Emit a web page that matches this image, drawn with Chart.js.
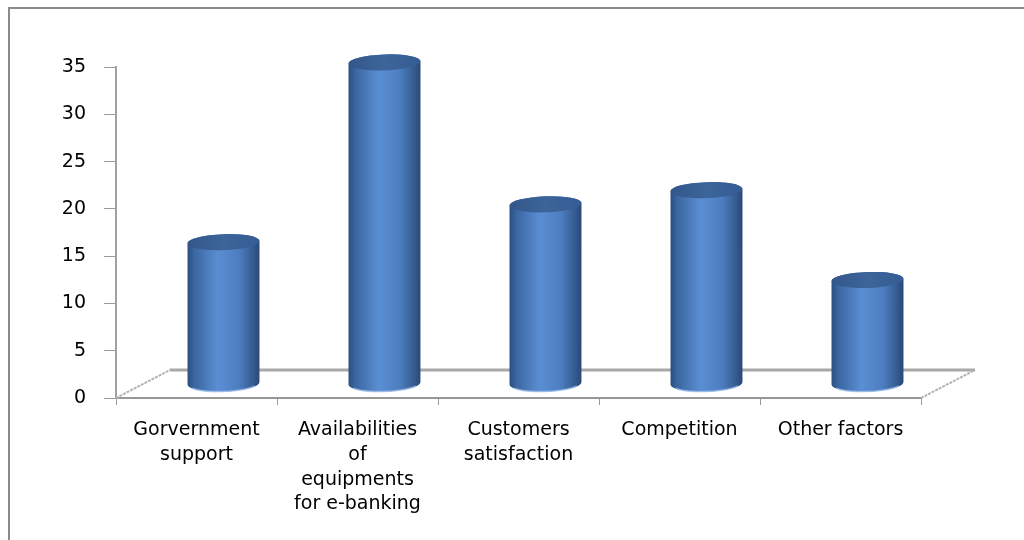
<!DOCTYPE html>
<html>
<head>
<meta charset="utf-8">
<script src="https://cdn.jsdelivr.net/npm/chart.js@4/dist/chart.umd.min.js"></script>
<style>
  html, body { margin: 0; padding: 0; background: #fff; }
  #wrap { position: relative; width: 1024px; height: 540px; overflow: hidden; }
</style>
</head>
<body>
<div id="wrap"><canvas id="chart" width="1024" height="540"></canvas></div>
<script>
// data
const categories = [
  ['Gorvernment', 'support'],
  ['Availabilities', 'of', 'equipments', 'for e-banking'],
  ['Customers', 'satisfaction'],
  ['Competition'],
  ['Other factors']
];
const values = [15, 34, 19, 20.5, 11];
const yTicks = [0, 5, 10, 15, 20, 25, 30, 35];

// depth of the 3d floor (back edge offset)
const DX = 54, DY = -28;

function drawCylinder(ctx, cx, top, bottom, w) {
  const rx = w / 2, ry = 8, rot = -0.035;
  const g = ctx.createLinearGradient(cx - rx, 0, cx + rx, 0);
  g.addColorStop(0, '#2b4f80');
  g.addColorStop(0.1, '#3b67a2');
  g.addColorStop(0.42, '#5a8ed3');
  g.addColorStop(0.72, '#4c7dbf');
  g.addColorStop(0.9, '#365d92');
  g.addColorStop(1, '#294876');
  ctx.save();
  ctx.beginPath();
  ctx.moveTo(cx - rx, top);
  ctx.lineTo(cx - rx, bottom);
  ctx.ellipse(cx, bottom, rx, ry, rot, Math.PI, 0, true);
  ctx.lineTo(cx + rx, top);
  ctx.ellipse(cx, top, rx, ry, rot, 0, Math.PI, true);
  ctx.closePath();
  ctx.fillStyle = g;
  ctx.fill();
  // light rim at the bottom
  ctx.beginPath();
  ctx.ellipse(cx, bottom, rx - 1, ry, rot, Math.PI * 0.85, Math.PI * 0.15, true);
  ctx.strokeStyle = 'rgba(150,185,230,0.8)';
  ctx.lineWidth = 1.5;
  ctx.stroke();
  // top cap
  const tg = ctx.createLinearGradient(cx - rx, top, cx + rx, top);
  tg.addColorStop(0, '#34578a');
  tg.addColorStop(0.5, '#3c6599');
  tg.addColorStop(1, '#355c94');
  ctx.beginPath();
  ctx.ellipse(cx, top, rx, ry, rot, 0, Math.PI * 2);
  ctx.fillStyle = tg;
  ctx.fill();
  ctx.restore();
}

const frame3d = {
  id: 'frame3d',
  beforeDraw(chart) {
    const ctx = chart.ctx;
    ctx.save();
    ctx.fillStyle = '#fff';
    ctx.fillRect(0, 0, chart.width, chart.height);
    ctx.strokeStyle = '#8a8a8a';
    ctx.lineWidth = 2;
    ctx.beginPath();
    ctx.moveTo(9, chart.height + 5);
    ctx.lineTo(9, 8);
    ctx.lineTo(chart.width + 5, 8);
    ctx.stroke();
    ctx.restore();
  },
  beforeDatasetsDraw(chart) {
    const ctx = chart.ctx;
    const a = chart.chartArea;
    const y0 = chart.scales.y.getPixelForValue(0);
    ctx.save();
    // back edge of the floor
    ctx.strokeStyle = '#a8a8a8';
    ctx.lineWidth = 3;
    ctx.beginPath();
    ctx.moveTo(a.left + DX, y0 + DY);
    ctx.lineTo(a.right + DX, y0 + DY);
    ctx.stroke();
    // side edges
    ctx.strokeStyle = '#b4b4b4';
    ctx.lineWidth = 2;
    ctx.setLineDash([3, 1]);
    ctx.beginPath();
    ctx.moveTo(a.left, y0);
    ctx.lineTo(a.left + DX, y0 + DY);
    ctx.moveTo(a.right, y0);
    ctx.lineTo(a.right + DX, y0 + DY);
    ctx.stroke();
    ctx.restore();
  },
  afterDatasetsDraw(chart) {
    const ctx = chart.ctx;
    chart.getDatasetMeta(0).data.forEach((bar) => {
      drawCylinder(ctx, bar.x + DX / 2, bar.y + DY / 2, bar.base + DY / 2, bar.width);
    });
  }
};

new Chart(document.getElementById('chart'), {
  type: 'bar',
  data: {
    labels: categories,
    datasets: [{
      data: values,
      backgroundColor: 'rgba(0,0,0,0)',
      borderWidth: 0,
      categoryPercentage: 1,
      barPercentage: 0.447
    }]
  },
  options: {
    responsive: false,
    animation: false,
    layout: { padding: { left: 10, right: 103, top: 67, bottom: 0 } },
    plugins: { legend: { display: false }, tooltip: { enabled: false } },
    scales: {
      x: {
        grid: { drawOnChartArea: false, tickLength: 7, color: '#9a9a9a', tickColor: '#9a9a9a' },
        border: { color: '#979797', width: 2 },
        ticks: {
          color: '#000',
          font: { family: 'DejaVu Sans', size: 19, lineHeight: 1.3 },
          padding: 13,
          maxRotation: 0,
          autoSkip: false
        },
        afterFit(s) { s.height = 142; }
      },
      y: {
        min: 0,
        max: 35,
        afterBuildTicks(s) { s.ticks = yTicks.map(v => ({ value: v })); },
        grid: { drawOnChartArea: false, tickLength: 12, color: '#9a9a9a', tickColor: '#9a9a9a' },
        border: { color: '#a0a0a0', width: 2 },
        ticks: {
          color: '#000',
          font: { family: 'DejaVu Sans', size: 19 },
          padding: 18
        },
        afterFit(s) { s.width = 106; }
      }
    }
  },
  plugins: [frame3d]
});
</script>
</body>
</html>
